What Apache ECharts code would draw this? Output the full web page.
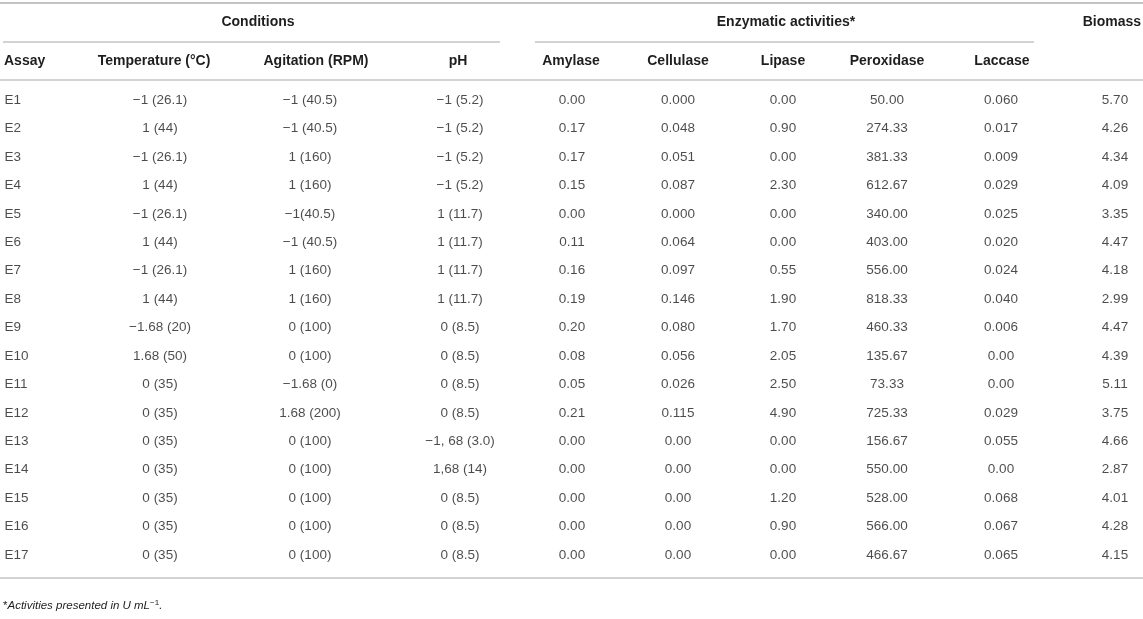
<!DOCTYPE html>
<html>
<head>
<meta charset="utf-8">
<script src="https://cdn.jsdelivr.net/npm/echarts@6/dist/echarts.min.js"></script>
<style>
  html, body { margin: 0; padding: 0; background: #fff; }
  #tbl { width: 1143px; height: 619px; }
</style>
</head>
<body>
<div id="tbl"></div>
<script>
// table content, one array per column
var assays = ['E1','E2','E3','E4','E5','E6','E7','E8','E9','E10','E11','E12','E13','E14','E15','E16','E17'];
var temperature = ['\u22121 (26.1)','1 (44)','\u22121 (26.1)','1 (44)','\u22121 (26.1)','1 (44)','\u22121 (26.1)','1 (44)',
  '\u22121.68 (20)','1.68 (50)','0 (35)','0 (35)','0 (35)','0 (35)','0 (35)','0 (35)','0 (35)'];
var agitation = ['\u22121 (40.5)','\u22121 (40.5)','1 (160)','1 (160)','\u22121(40.5)','\u22121 (40.5)','1 (160)','1 (160)',
  '0 (100)','0 (100)','\u22121.68 (0)','1.68 (200)','0 (100)','0 (100)','0 (100)','0 (100)','0 (100)'];
var ph = ['\u22121 (5.2)','\u22121 (5.2)','\u22121 (5.2)','\u22121 (5.2)','1 (11.7)','1 (11.7)','1 (11.7)','1 (11.7)',
  '0 (8.5)','0 (8.5)','0 (8.5)','0 (8.5)','\u22121, 68 (3.0)','1,68 (14)','0 (8.5)','0 (8.5)','0 (8.5)'];
var amylase = ['0.00','0.17','0.17','0.15','0.00','0.11','0.16','0.19','0.20','0.08','0.05','0.21','0.00','0.00','0.00','0.00','0.00'];
var cellulase = ['0.000','0.048','0.051','0.087','0.000','0.064','0.097','0.146','0.080','0.056','0.026','0.115','0.00','0.00','0.00','0.00','0.00'];
var lipase = ['0.00','0.90','0.00','2.30','0.00','0.00','0.55','1.90','1.70','2.05','2.50','4.90','0.00','0.00','1.20','0.90','0.00'];
var peroxidase = ['50.00','274.33','381.33','612.67','340.00','403.00','556.00','818.33','460.33','135.67','73.33','725.33','156.67','550.00','528.00','566.00','466.67'];
var laccase = ['0.060','0.017','0.009','0.029','0.025','0.020','0.024','0.040','0.006','0.00','0.00','0.029','0.055','0.00','0.068','0.067','0.065'];
var biomass = ['5.70','4.26','4.34','4.09','3.35','4.47','4.18','2.99','4.47','4.39','5.11','3.75','4.66','2.87','4.01','4.28','4.15'];

var columns = [assays, temperature, agitation, ph, amylase, cellulase, lipase, peroxidase, laccase, biomass];
var colHeaders = ['Assay', 'Temperature (\u00b0C)', 'Agitation (RPM)', 'pH', 'Amylase', 'Cellulase', 'Lipase', 'Peroxidase', 'Laccase', ''];

// layout: x of each column (axis units = pixels), headers and body cells
var headX = [4, 154, 316, 458, 571, 678, 783, 887, 1002, 1112];
var bodyX = [4, 160, 310, 460, 572, 678, 783, 887, 1001, 1115];

var txt = '#1e1e1e';
var rule = '#c4c4c4';
var font = '"Liberation Sans", Arial, Helvetica, sans-serif';

var chart = echarts.init(document.getElementById('tbl'));

var series = columns.map(function (col, c) {
  return {
    type: 'scatter',
    silent: true,
    symbolSize: 1,
    itemStyle: { color: 'rgba(0,0,0,0)' },
    data: col.map(function (v, i) { return [bodyX[c], i, v]; }),
    label: {
      show: true,
      position: c === 0 ? 'right' : 'inside',
      distance: 0,
      formatter: function (p) { return p.data[2]; },
      color: txt,
      fontSize: 13.5,
      fontFamily: font
    }
  };
});

function line(x1, y1, x2, y2, w) {
  return { type: 'line', silent: true, shape: { x1: x1, y1: y1, x2: x2, y2: y2 }, style: { stroke: rule, lineWidth: w || 1.3 } };
}
function head(x, y, s, align) {
  return { type: 'text', silent: true, x: x, y: y,
    style: { text: s, fill: txt, font: 'bold 14px ' + font, align: align || 'center', verticalAlign: 'middle' } };
}

var graphics = [
  line(0, 3, 1143, 3, 2),
  line(3, 42, 500, 42),
  line(535, 42, 1034, 42),
  line(0, 80, 1143, 80, 1.5),
  line(0, 578, 1143, 578, 1.5),
  head(258, 22, 'Conditions'),
  head(786, 22, 'Enzymatic activities*'),
  head(1141, 22, 'Biomass', 'right')
];
colHeaders.forEach(function (h, c) {
  if (h) graphics.push(head(headX[c], 61, h, c === 0 ? 'left' : 'center'));
});
graphics.push({
  type: 'text', silent: true, x: 3, y: 605,
  style: {
    text: '{a|*}{b|Activities presented in U mL}{s|\u22121}{b|.}',
    verticalAlign: 'middle',
    rich: {
      a: { fontSize: 11.5, fontFamily: font, fill: txt, lineHeight: 14, verticalAlign: 'bottom' },
      b: { fontSize: 11.5, fontFamily: font, fontStyle: 'italic', fill: txt, lineHeight: 14, verticalAlign: 'bottom' },
      s: { fontSize: 8, fontFamily: font, fill: txt, lineHeight: 14, verticalAlign: 'top', padding: [1, 0, 0, 0] }
    }
  }
});

chart.setOption({
  animation: false,
  grid: { left: 0, right: 0, top: 85.8, bottom: 49.7 },
  xAxis: { type: 'value', min: 0, max: 1143, show: false },
  yAxis: { type: 'category', data: assays, inverse: true, show: false },
  series: series,
  graphic: graphics
});
</script>
</body>
</html>
